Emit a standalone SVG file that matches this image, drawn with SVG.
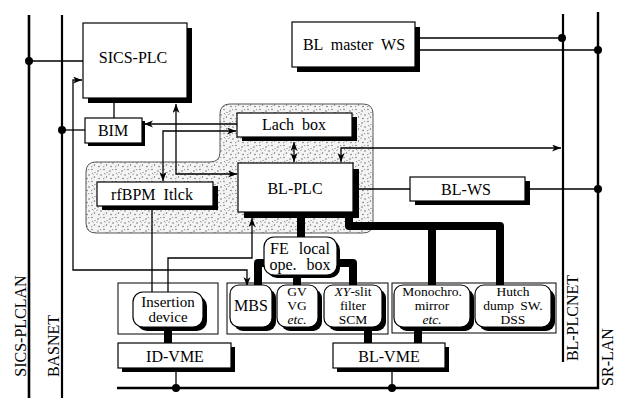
<svg xmlns="http://www.w3.org/2000/svg" width="620" height="406" viewBox="0 0 620 406" font-family="'Liberation Serif', 'Times New Roman', serif">
<style>
text{font-family:'Liberation Serif','Times New Roman',serif;font-size:16px;fill:#000;text-anchor:middle}
text.s{font-size:13.5px}
.box{fill:#fff;stroke:#000;stroke-width:1.2}
.sh{fill:#000}
.grp{fill:none;stroke:#000;stroke-width:1}
.ln{fill:none;stroke:#000;stroke-width:1.3}
.bus{fill:none;stroke:#000;stroke-width:2.2}
.thick{fill:none;stroke:#000;stroke-width:8;stroke-linejoin:round}
.arr{marker-end:url(#ah)}
.arr2{marker-start:url(#ah);marker-end:url(#ah)}
</style>
<defs>
<marker id="ah" markerWidth="10" markerHeight="8" refX="9" refY="3.5" orient="auto-start-reverse" markerUnits="userSpaceOnUse">
<path d="M0,0 L9,3.5 L0,7 L2.5,3.5 Z" fill="#000"/>
</marker>
<pattern id="stip" width="12" height="12" patternUnits="userSpaceOnUse">
<rect width="12" height="12" fill="#f4f4f4"/>
<circle cx="2" cy="3" r="0.7" fill="#555"/>
<circle cx="8" cy="1.5" r="0.7" fill="#666"/>
<circle cx="5" cy="7" r="0.7" fill="#555"/>
<circle cx="10.5" cy="9" r="0.7" fill="#666"/>
<circle cx="3" cy="10.5" r="0.7" fill="#555"/>
<circle cx="11" cy="4.5" r="0.6" fill="#666"/>
<path d="M8,5 l1.5,1.5 M0.5,7 l1,-1.5 M7,11 l1.5,-1 M4,1 l1,1.2" stroke="#666" stroke-width="0.7"/>
</pattern>
</defs>

<g id="stipple-area">
<path d="M230,104 H363 Q373,104 373,114 V223 Q373,233 363,233 H96 Q86,233 86,223 V172 Q86,162 96,162 H210 Q220,162 220,152 V114 Q220,104 230,104 Z" fill="url(#stip)" stroke="#555" stroke-width="1"/>
</g>

<g id="connectors">
<line class="bus" x1="29" y1="15" x2="29" y2="398" style="stroke-width:2.6"/>
<line class="bus" x1="62" y1="15" x2="62" y2="398"/>
<line class="bus" x1="563" y1="14" x2="563" y2="362"/>
<path class="bus" d="M598,12 V388 H117" style="stroke-width:2.4"/>
<circle cx="29" cy="61" r="4"/>
<circle cx="62" cy="130" r="4"/>
<circle cx="562" cy="38" r="4"/>
<circle cx="598" cy="50" r="4"/>
<circle cx="598" cy="189" r="4"/>
<circle cx="176" cy="388" r="4"/>
<circle cx="392" cy="388" r="4"/>
<line class="ln" x1="29" y1="61" x2="83" y2="61"/>
<line class="ln" x1="114" y1="103" x2="114" y2="118"/>
<line class="ln" x1="62" y1="130" x2="85" y2="130"/>
<line class="ln" x1="420" y1="38" x2="562" y2="38"/>
<line class="ln" x1="420" y1="50" x2="598" y2="50"/>
<line class="ln" x1="358" y1="189" x2="410" y2="189"/>
<line class="ln" x1="530" y1="189" x2="598" y2="189"/>
<path class="ln arr2" d="M82,80 H73 V270 H247 V286"/>
<path class="ln arr" d="M237,124 H144"/>
<path class="ln arr2" d="M163,181 V131 H236"/>
<path class="ln arr2" d="M176,104 V174 H237"/>
<path class="ln arr2" d="M294,142 V162"/>
<path class="ln arr2" d="M341,162 V148 H561"/>
<line class="ln" x1="152" y1="206" x2="152" y2="292"/>
<path class="ln arr" d="M168,292 V258 H252 V218"/>
<line class="ln" x1="176" y1="368" x2="176" y2="388"/>
<line class="ln" x1="392" y1="368" x2="392" y2="388"/>
<path class="thick" d="M301,212 V238"/>
<path class="thick" d="M349,214 V226 H500 V286"/>
<path class="thick" d="M432,226 V286"/>
<path class="thick" d="M266,263 H258 V286"/>
<path class="thick" d="M297,274 V286"/>
<path class="thick" d="M335,263 H353 V286"/>
<path class="thick" d="M168,326 V344"/>
<path class="thick" d="M368,326 V344"/>
<path class="thick" d="M418,326 V344"/>
</g>

<g id="sics-plc">
<rect class="sh" x="88" y="28" width="104" height="75"/>
<rect class="box" x="83" y="23" width="104" height="75"/>
<text x="133" y="63">SICS-PLC</text>
</g>
<g id="bl-master-ws">
<rect class="sh" x="297" y="27" width="123" height="45"/>
<rect class="box" x="292" y="22" width="123" height="45"/>
<text x="354" y="50" style="word-spacing:4px">BL master WS</text>
</g>
<g id="bim">
<rect class="sh" x="88" y="121" width="57" height="25"/>
<rect class="box" x="85" y="118" width="57" height="25"/>
<text x="113" y="136">BIM</text>
</g>
<g id="lach-box">
<rect class="sh" x="242" y="117" width="115" height="24"/>
<rect class="box" x="237" y="113" width="115" height="24"/>
<text x="294" y="130" style="word-spacing:4px">Lach box</text>
</g>
<g id="rfbpm">
<rect class="sh" x="102" y="186" width="116" height="24"/>
<rect class="box" x="97" y="182" width="116" height="24"/>
<text x="152" y="200" style="word-spacing:4px">rfBPM Itlck</text>
</g>
<g id="bl-plc">
<rect class="sh" x="244" y="169" width="115" height="49"/>
<rect class="box" x="238" y="163" width="115" height="49"/>
<text x="295" y="194">BL-PLC</text>
</g>
<g id="bl-ws">
<rect class="sh" x="415" y="181" width="115" height="24"/>
<rect class="box" x="410" y="177" width="115" height="24"/>
<text x="466" y="195">BL-WS</text>
</g>
<g id="fe-local">
<rect class="sh" x="267" y="240" width="73" height="38" rx="10"/>
<rect class="box" x="264" y="237" width="73" height="38" rx="10"/>
<text x="300" y="254" style="word-spacing:6px">FE local</text>
<text x="300" y="270" style="word-spacing:6px">ope. box</text>
</g>

<g id="insertion-group">
<rect class="grp" x="118" y="283" width="100" height="51"/>
</g>
<g id="insertion-device">
<rect class="sh" x="137" y="296" width="70" height="35" rx="10"/>
<rect class="box" x="133" y="292" width="70" height="35" rx="10"/>
<text x="168" y="307" style="font-size:15px">Insertion</text>
<text x="168" y="322" style="font-size:15px">device</text>
</g>
<g id="id-vme">
<rect class="sh" x="122" y="347" width="113" height="25"/>
<rect class="box" x="118" y="343" width="113" height="25"/>
<text x="175" y="362">ID-VME</text>
</g>

<g id="fe-group">
<rect class="grp" x="227" y="283" width="161" height="51"/>
</g>
<g id="mbs">
<rect class="sh" x="234" y="289" width="42" height="42" rx="9"/>
<rect class="box" x="230" y="285" width="42" height="42" rx="9"/>
<text x="251" y="311">MBS</text>
</g>
<g id="gv-vg">
<rect class="sh" x="281" y="289" width="41" height="42" rx="9"/>
<rect class="box" x="277" y="285" width="41" height="42" rx="9"/>
<text x="297" y="296" class="s">GV</text>
<text x="297" y="310" class="s">VG</text>
<text x="297" y="324" class="s" font-style="italic">etc.</text>
</g>
<g id="xy-slit">
<rect class="sh" x="328" y="289" width="58" height="42" rx="9"/>
<rect class="box" x="324" y="285" width="58" height="42" rx="9"/>
<text x="353" y="296" class="s"><tspan font-style="italic">XY</tspan>-slit</text>
<text x="353" y="310" class="s">filter</text>
<text x="353" y="324" class="s">SCM</text>
</g>

<g id="optics-group">
<rect class="grp" x="392" y="283" width="164" height="50"/>
</g>
<g id="monochro">
<rect class="sh" x="398" y="289" width="76" height="42" rx="9"/>
<rect class="box" x="394" y="285" width="76" height="42" rx="9"/>
<text x="432" y="296" class="s">Monochro.</text>
<text x="432" y="310" class="s">mirror</text>
<text x="432" y="324" class="s" font-style="italic">etc.</text>
</g>
<g id="hutch">
<rect class="sh" x="479" y="289" width="76" height="42" rx="9"/>
<rect class="box" x="475" y="285" width="76" height="42" rx="9"/>
<text x="513" y="296" class="s">Hutch</text>
<text x="513" y="310" class="s" style="word-spacing:3px">dump SW.</text>
<text x="513" y="324" class="s">DSS</text>
</g>
<g id="bl-vme">
<rect class="sh" x="337" y="347" width="112" height="25"/>
<rect class="box" x="333" y="343" width="112" height="25"/>
<text x="389" y="362">BL-VME</text>
</g>

<g id="labels">
<text transform="translate(26,326) rotate(-90)">SICS-PLCLAN</text>
<text transform="translate(59,346) rotate(-90)">BASNET</text>
<text transform="translate(578,318) rotate(-90)">BL-PLCNET</text>
<text transform="translate(613,357) rotate(-90)">SR-LAN</text>
</g>
</svg>
